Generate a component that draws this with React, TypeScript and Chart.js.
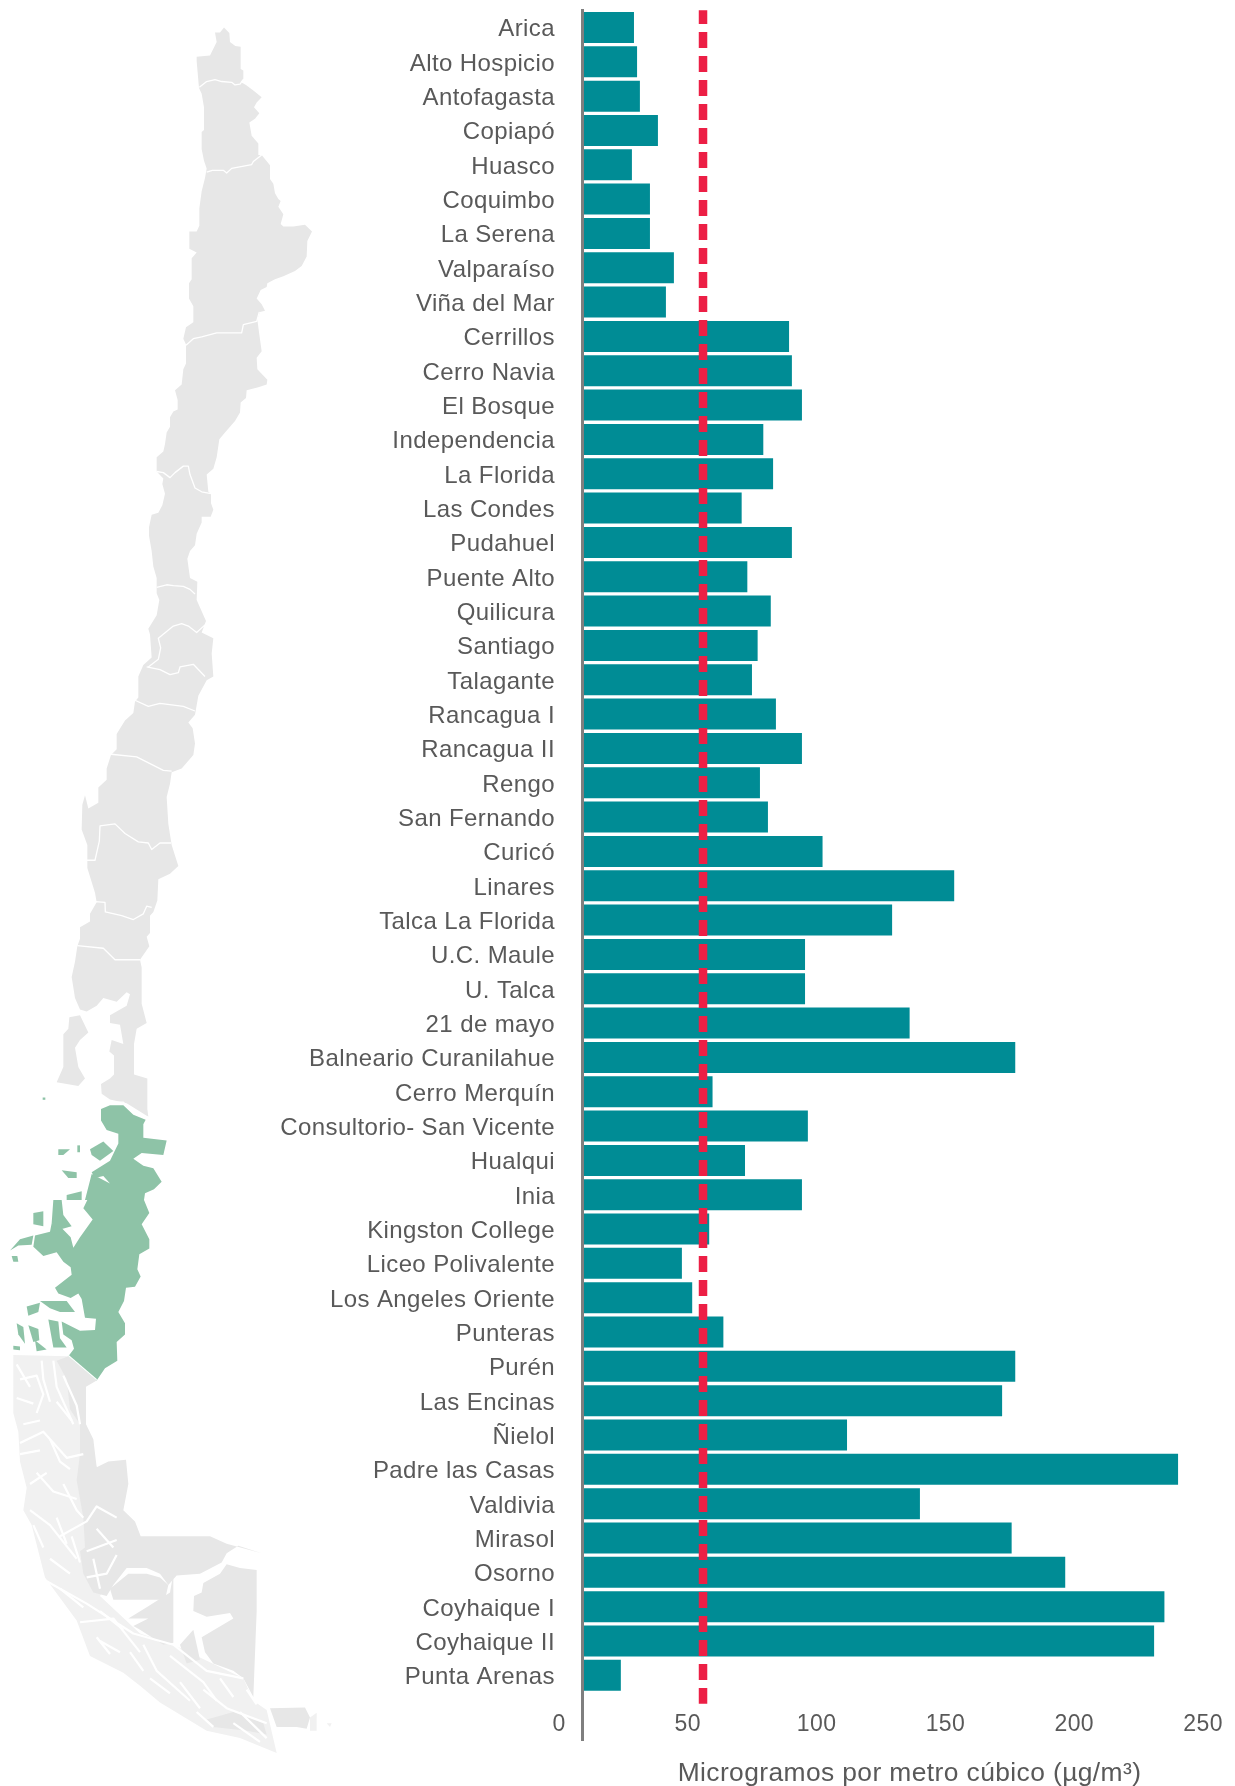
import React, { useEffect, useRef } from "react";
import { Chart, registerables } from "chart.js";

Chart.register(...registerables);

const stations = ["Arica","Alto Hospicio","Antofagasta","Copiapó","Huasco","Coquimbo","La Serena","Valparaíso","Viña del Mar","Cerrillos","Cerro Navia","El Bosque","Independencia","La Florida","Las Condes","Pudahuel","Puente Alto","Quilicura","Santiago","Talagante","Rancagua I","Rancagua II","Rengo","San Fernando","Curicó","Linares","Talca La Florida","U.C. Maule","U. Talca","21 de mayo","Balneario Curanilahue","Cerro Merquín","Consultorio- San Vicente","Hualqui","Inia","Kingston College","Liceo Polivalente","Los Angeles Oriente","Punteras","Purén","Las Encinas","Ñielol","Padre las Casas","Valdivia","Mirasol","Osorno","Coyhaique I","Coyhaique II","Punta Arenas"];
const concentration = [19.4,20.6,21.7,28.7,18.6,25.6,25.6,34.9,31.8,79.6,80.7,84.6,69.6,73.4,61.2,80.7,63.4,72.5,67.4,65.2,74.5,84.6,68.3,71.4,92.6,143.7,119.6,85.8,85.8,126.4,167.4,49.9,86.9,62.5,84.6,48.6,38,42,54.1,167.4,162.3,102.1,230.6,130.4,166,186.8,225.3,221.3,14.3];
const standardValue = 46.2;
const axisTitle = "Microgramos por metro cúbico (µg/m³)";

type P = number[];
const z1 = (p: P) => p.map((v, i) => (i % 2 ? v / 2.613 : v / 3));
const z2 = (p: P) => p.map((v, i) => (i % 2 ? 600 + v / 2.613 : v / 3));
const z3 = (p: P) => p.map((v, i) => (i % 2 ? 1200 + v / 2.676 : v / 3));

const northGrey = [
  ...z1([672,72,688,86,690,110,706,120,722,122,722,180,730,184,730,206,722,214,738,222,762,238,785,254,770,268,762,280,778,296,765,310,748,320,755,355,775,375,775,405,785,405,810,432,810,468,820,480,825,505,835,520,842,525,835,540,850,560,842,585,850,592,880,592,915,587,936,605,922,630,920,670,905,695,885,708,850,722,825,730,802,740,800,750,782,758,770,780,785,795,795,812,780,815,772,835,778,875,785,918,770,935,772,965,802,992,800,1005,775,1012,740,1020,738,1040,722,1052,720,1078,705,1100,690,1115,675,1130,658,1148,650,1195,640,1225,620,1240,625,1285,633,1290,633,1315,640,1332,632,1350,605,1350,605,1365,590,1395,585,1425,570,1440,562,1460,570,1510,592,1520,590,1568]),
  ...z2([618,55,605,85,640,100,635,140,640,200,620,210,595,250,585,300,565,320,578,335,585,375,580,405,545,440,515,450,510,480,500,515,505,585,515,640,535,695,510,715,475,730,472,785,460,815,450,825,450,870,440,880,448,905,420,940,425,960,425,1055,440,1105,410,1120,402,1160,402,1240,442,1250,442,1330,445,1350,380,1315,330,1305,305,1290,303,1265,330,1250,342,1240,342,1190,328,1180,335,1150,370,1160,360,1110,330,1105,330,1085,380,1060,390,1030,380,1025,350,1050,310,1040,290,1060,260,1075,240,1070,225,1040,215,985,225,945,232,905,240,885,240,855,270,840,270,820,290,790,285,765,262,700,262,640,245,600,247,535,255,510,265,545,295,530,295,490,320,470,320,440,333,405,350,390,350,350,375,315,400,295,405,265,415,255,415,200,430,170,455,150,450,90,445,75,470,40,478,0]),
  ...z1([470,1550,470,1510,460,1480,455,1440,447,1400,447,1378,455,1345,475,1340,487,1320,495,1290,487,1265,490,1250,470,1232,470,1195,490,1180,495,1160,500,1130,510,1115,510,1090,520,1075,533,1070,533,1045,525,1020,545,1005,550,965,558,950,558,900,550,885,558,855,580,842,580,800,567,780,567,740,575,730,575,675,590,660,568,650,568,605,590,605,598,590,598,545,605,500,615,465,620,440,612,420,605,390,605,345,612,340,612,280,605,245,597,230,590,160,590,148,630,145,650,110,645,85,660,85]),
];
const chiloe = z2([208,1090,240,1085,265,1130,240,1150,225,1170,235,1220,255,1250,235,1270,170,1260,190,1220,190,1135,205,1120]);
const archipelago = z3([40,415,205,418,258,500,258,600,290,715,240,800,370,970,300,1060,420,1160,520,1190,730,1280,760,1340,800,1365,830,1480,720,1440,620,1420,480,1345,420,1300,370,1265,270,1220,230,1125,135,1010,95,870,70,830,80,770,60,700,55,620,40,570,40,480]);
const southGrey = [
  z3([205,418,290,483,258,500,258,600,280,640,290,715,325,700,378,695,385,760,370,830,405,860,422,900,630,900,680,920,785,945,715,925,680,945,665,970,600,1000,530,1005,505,1030,480,1000,440,985,380,985,340,1030,320,1060,280,1050,250,1000,240,940,255,930,250,850,230,750,240,680,240,600,210,560,200,480,170,430]),
  z3([330,1040,385,1000,440,1000,480,1010,505,1030,495,1070,440,1070,400,1070,340,1070]),
  z3([385,1120,440,1090,510,1050,520,1000,520,1185,490,1190,420,1150,400,1140,445,1120]),
  z3([720,985,770,990,770,1100,760,1330,730,1280,700,1260,640,1240,615,1210,605,1170,700,1120,690,1105,620,1115,580,1100,582,1060,605,1050,610,1025,660,1000,680,975]),
  z3([810,1360,915,1358,930,1385,920,1415,890,1410,830,1410]),
  z3([620,1390,700,1370,790,1400,800,1430,740,1420,640,1410]),
  z3([540,1190,580,1150,600,1230,560,1240]),
];
const greenMain = [
  ...z2([330,1320,370,1320,400,1345,437,1358,430,1370,430,1405,500,1412,490,1450,425,1445,400,1460,430,1478,460,1485,485,1520,462,1540,435,1550]),
  ...z3([432,0,448,35,425,65,448,105,448,130,418,145,412,185,422,205,405,232,378,235,372,270,355,300,375,330,375,360,350,380,352,430,315,450,290,483,205,418,222,398,215,375,190,360,185,325,240,350,285,348,288,318,255,315,245,265,235,250,212,262,175,250,165,235,215,200,212,180,190,165,170,140,130,150,100,125,105,95,150,85,155,62,185,75,212,100,220,128,240,100,278,52,250,22,262,0]),
  ...z2([255,1568,275,1500,330,1525,310,1505,285,1510,275,1495,330,1465,355,1420,355,1395,320,1385,303,1360,303,1330]),
];
const greenIslands = [
  z3([30,135,60,105,100,95,95,120,55,122]),
  z3([35,150,52,150,55,165,40,165]),
  z3([160,0,185,0,190,40,215,70,175,80,155,62]),
  z3([100,35,130,30,130,70,100,65]),
  z3([80,285,120,275,115,300,85,310]),
  z3([50,330,70,340,75,385,55,360]),
  z3([85,335,115,345,118,375,100,380]),
  z3([105,375,140,400,110,405]),
  z3([120,270,200,270,225,300,180,300,150,290]),
  z3([145,320,175,325,180,370,200,395,160,395]),
  z3([40,390,60,392,60,402,40,400]),
  z2([175,1435,210,1435,190,1450,175,1450]),
  z2([232,1425,240,1425,240,1443,232,1443]),
  z2([270,1435,310,1415,340,1440,300,1465,275,1450]),
  z2([185,1490,230,1495,230,1510,205,1510]),
  z2([200,1555,245,1545,245,1568,200,1568]),
  z2([128,1300,136,1300,136,1306,128,1306]),
];
const borders = [
  z1([598,228,620,213,645,208,665,213,695,215,705,222,720,220,730,208]),
  z1([620,450,637,445,670,445,680,452,695,440,755,430,760,422,785,405]),
  z1([558,902,580,885,605,880,650,870,725,870,730,848,770,840,778,815]),
  z1([470,1232,490,1235,510,1248,525,1235,550,1218,565,1218,570,1240,585,1275,605,1285,633,1290]),
  z1([470,1535,500,1528,520,1530,550,1532,570,1540,585,1552]),
  z2([445,175,475,155,482,125,475,100,520,68,545,62,565,68,590,85,615,65]),
  z2([440,175,480,182,510,195,535,190,540,175,580,168,615,200]),
  z2([405,262,445,278,480,270,550,278,585,290]),
  z2([333,403,410,410,490,445,515,447]),
  z2([260,680,285,680,298,630,300,590,345,585,375,610,415,632,445,635,455,652,480,635,513,635]),
  z2([285,788,315,790,316,815,365,825,400,835,430,820,440,800,455,803]),
  z2([232,903,310,910,345,940,420,940]),
  z2([305,1312,370,1312,400,1340,445,1352]),
  z3([205,416,290,481]),
];
const fjords = [
  z3([60,480,110,470,130,520,110,570]),z3([160,430,170,500,220,600]),z3([190,470,230,550,240,600]),
  z3([60,650,130,620,200,690,250,680]),z3([110,730,160,780,230,800]),z3([90,830,150,870,230,960]),
  z3([180,900,260,860,290,820,350,850]),z3([260,940,350,910]),z3([140,1020,260,1080,400,1160,520,1190,620,1260,730,1280]),
  z3([260,1010,320,1000,350,950]),z3([240,1130,340,1120,420,1210]),z3([430,1190,470,1260,570,1340]),
  z3([510,1220,610,1290,650,1340]),z3([610,1310,680,1360,800,1400]),z3([720,1370,800,1440]),z3([300,1180,360,1210]),
  z3([50,440,90,500]),z3([125,430,130,480,150,540]),z3([50,530,100,545]),z3([170,540,215,590]),
  z3([70,600,120,590]),z3([60,680,120,670]),z3([150,640,180,700,210,720]),z3([90,760,140,730]),
  z3([190,760,230,830,250,850]),z3([100,870,130,930]),z3([170,850,200,920]),z3([290,880,340,930]),
  z3([150,960,210,1000]),z3([215,900,240,970]),z3([280,960,300,1040]),z3([180,1040,250,1090]),
  z3([300,1100,370,1150]),z3([290,1170,330,1215]),z3([390,1210,430,1260]),z3([450,1280,510,1320]),
  z3([540,1290,600,1360]),z3([590,1370,640,1410]),z3([700,1400,780,1450]),z3([660,1280,700,1330]),z3([740,1310,770,1350]),
];
const eastPatch = [z3([930,1385,950,1372,950,1420,930,1420]), z3([980,1400,995,1400,990,1410])];

function poly(ctx: CanvasRenderingContext2D, p: number[]) {
  ctx.beginPath();
  for (let i = 0; i < p.length; i += 2) {
    if (i === 0) ctx.moveTo(p[i], p[i + 1]);
    else ctx.lineTo(p[i], p[i + 1]);
  }
}
function fill(ctx: CanvasRenderingContext2D, p: number[], color: string) {
  poly(ctx, p);
  ctx.closePath();
  ctx.fillStyle = color;
  ctx.fill();
}
function stroke(ctx: CanvasRenderingContext2D, p: number[], color: string, w: number) {
  poly(ctx, p);
  ctx.strokeStyle = color;
  ctx.lineWidth = w;
  ctx.lineJoin = "round";
  ctx.stroke();
}

const GREY = "#e7e7e7";
const GREEN = "#8ec3a7";

const mapPlugin = {
  id: "chileMap",
  beforeDraw(chart: any) {
    const ctx = chart.ctx as any;
    ctx.save();
    fill(ctx, archipelago, "#f1f1f1");
    fill(ctx, northGrey, GREY);
    fill(ctx, chiloe, GREY);
    southGrey.forEach((p) => fill(ctx, p, GREY));
    eastPatch.forEach((p) => fill(ctx, p, "#f1f1f1"));
    fjords.forEach((p) => stroke(ctx, p, "#ffffff", 2.2));
    fill(ctx, greenMain, GREEN);
    greenIslands.forEach((p) => fill(ctx, p, GREEN));
    borders.forEach((p) => stroke(ctx, p, "#ffffff", 1.3));
    ctx.restore();
    ctx.letterSpacing = "0.4px";
  },
};

const axisLinePlugin = {
  id: "axisLine",
  afterDatasetsDraw(chart: any) {
    const ctx = chart.ctx as CanvasRenderingContext2D;
    const x0 = chart.scales.x.getPixelForValue(0);
    ctx.save();
    ctx.fillStyle = "#7f7f7f";
    ctx.fillRect(x0 - 3, 9, 3, 1732);
    ctx.restore();
  },
};

const noPad = (s: any) => {
  s.paddingTop = 0;
  s.paddingBottom = 0;
  s.paddingLeft = 0;
  s.paddingRight = 0;
};

export default function App() {
  const ref = useRef<HTMLCanvasElement>(null);
  useEffect(() => {
    const chart = new Chart(ref.current as HTMLCanvasElement, {
      type: "bar",
      data: {
        datasets: [
          {
            type: "scatter",
            data: [
              { x: standardValue, y: -0.5 },
              { x: standardValue, y: 48.83 },
            ],
            showLine: true,
            pointRadius: 0,
            borderColor: "#ec1f45",
            borderWidth: 8.5,
            borderDash: [16, 8],
            borderDashOffset: 2.3,
            borderCapStyle: "butt",
            clip: false,
            order: 0,
          } as any,
          {
            type: "bar",
            data: concentration.map((v, i) => ({ x: v, y: i })),
            backgroundColor: "#008c95",
            barPercentage: 0.903,
            categoryPercentage: 1,
            order: 1,
          },
        ],
      },
      options: {
        indexAxis: "y",
        responsive: false,
        animation: false,
        layout: { autoPadding: false, padding: { top: 10.3, left: 0, right: 0, bottom: 0 } },
        plugins: { legend: { display: false }, tooltip: { enabled: false }, title: { display: false } },
        scales: {
          x: {
            type: "linear",
            min: 0,
            max: 252.7,
            position: "bottom",
            afterFit: (s: any) => { s.height = 93.5; noPad(s); },
            grid: { display: false },
            border: { display: false },
            ticks: {
              stepSize: 50,
              includeBounds: false,
              labelOffset: -25,
              padding: 10.3,
              maxRotation: 0,
              color: "#595959",
              font: { family: "'Liberation Sans'", size: 23 },
            },
            title: {
              display: true,
              text: axisTitle,
              color: "#595959",
              font: { family: "'Liberation Sans'", size: 26.4 },
              padding: { top: 0, bottom: -3.4 },
            },
          },
          y: {
            type: "linear",
            position: "left",
            reverse: true,
            offset: false,
            bounds: "data",
            min: -0.5,
            max: 48.5,
            afterFit: (s: any) => { s.width = 584; noPad(s); },
            afterBuildTicks: (s: any) => { s.ticks = stations.map((_, i) => ({ value: i })); },
            grid: { display: false, offset: false },
            border: { display: false },
            ticks: {
              autoSkip: false,
              padding: 21,
              labelOffset: 2.3,
              color: "#595959",
              font: { family: "'Liberation Sans'", size: 24 },
              callback: (v: any) => stations[v],
            },
          },
        },
      },
      plugins: [mapPlugin, axisLinePlugin],
    } as any);
    return () => chart.destroy();
  }, []);
  return (
    <div style={{ position: "absolute", left: 0, top: 0, width: 1235, height: 1786 }}>
      <canvas ref={ref} width={1235} height={1786} style={{ display: "block" }} />
    </div>
  );
}
